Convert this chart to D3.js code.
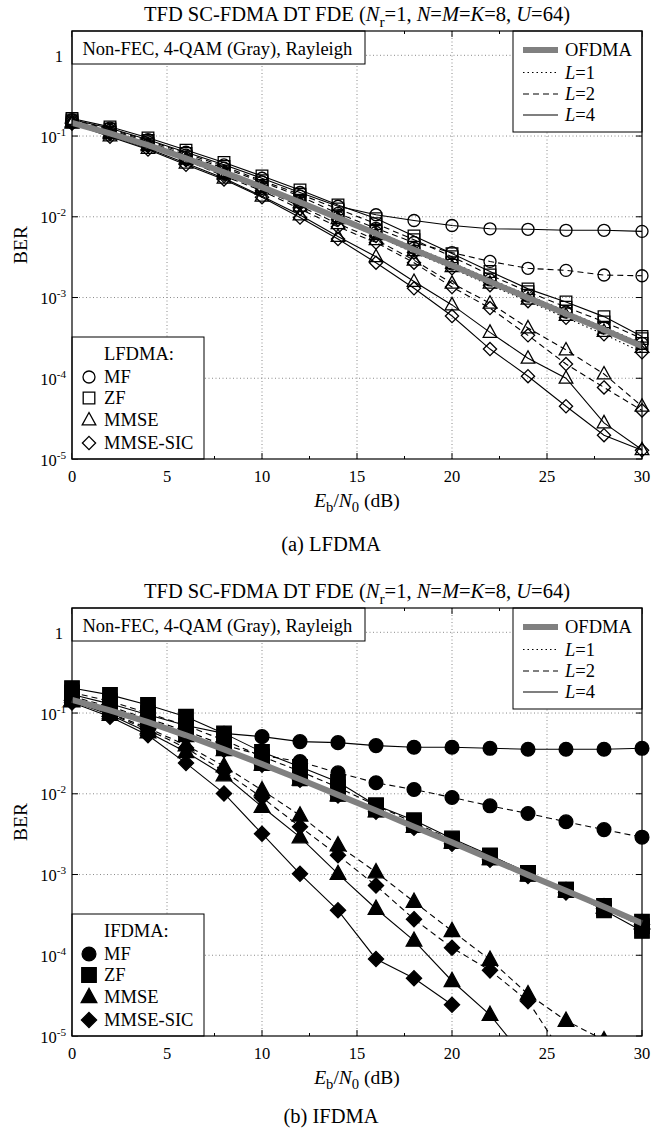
<!DOCTYPE html>
<html>
<head>
<meta charset="utf-8">
<script src="https://cdn.jsdelivr.net/npm/d3@7"></script>
<style>
body{margin:0;background:#fff}
svg text{font-family:"Liberation Serif","Times New Roman",serif;fill:#000}
</style>
</head>
<body>
<svg id="fig" width="669" height="1130"></svg>
<script>
// Eb/N0 points (dB)
const snr = [0, 2, 4, 6, 8, 10, 12, 14, 16, 18, 20, 22, 24, 26, 28, 30];
const xTicks = [0, 5, 10, 15, 20, 25, 30];
const yTicks = [1e-5, 1e-4, 1e-3, 1e-2, 1e-1, 1];

// OFDMA reference (grey)
const ofdma = [0.146, 0.108, 0.077, 0.053, 0.0355, 0.0233, 0.0151, 0.0097, 0.0062, 0.0039, 0.0025, 0.00157, 0.00099, 0.00063, 0.0004, 0.00025];

// (a) LFDMA
const lfMF1   = [0.148, 0.11, 0.078, 0.054, 0.036, 0.024, 0.0155, 0.0099, 0.0064, 0.0041, 0.0026, 0.00165, 0.00104, 0.00066, 0.00042, 0.00027];
const lfZF1   = [0.15, 0.112, 0.08, 0.055, 0.037, 0.0245, 0.016, 0.0103, 0.0066, 0.0042, 0.0027, 0.0017, 0.00107, 0.00068, 0.00043, 0.00027];
const lfMMSE1 = [0.145, 0.107, 0.076, 0.052, 0.035, 0.023, 0.0149, 0.0095, 0.006, 0.0038, 0.0024, 0.0015, 0.00095, 0.0006, 0.00038, 0.00024];
const lfSIC1  = [0.144, 0.106, 0.075, 0.051, 0.034, 0.0225, 0.0145, 0.0092, 0.0058, 0.0036, 0.0023, 0.00142, 0.0009, 0.00056, 0.00035, 0.00021];
const lfMF2   = [0.155, 0.118, 0.085, 0.058, 0.04, 0.027, 0.018, 0.011, 0.0072, 0.0048, 0.0036, 0.0028, 0.0023, 0.00217, 0.0019, 0.00186];
const lfZF2   = [0.158, 0.122, 0.088, 0.061, 0.042, 0.028, 0.019, 0.0125, 0.0082, 0.0052, 0.0032, 0.0019, 0.00118, 0.00076, 0.0005, 0.00031];
const lfMMSE2 = [0.15, 0.11, 0.078, 0.052, 0.034, 0.022, 0.0135, 0.0082, 0.0052, 0.0029, 0.0015, 0.00085, 0.00042, 0.000224, 0.000113, 0.000045];
const lfSIC2  = [0.148, 0.108, 0.076, 0.05, 0.032, 0.021, 0.0125, 0.0075, 0.0048, 0.0027, 0.00135, 0.00074, 0.00034, 0.00015, 0.000077, 0.00004];
const lfMF4   = [0.16, 0.125, 0.09, 0.063, 0.044, 0.03, 0.02, 0.0135, 0.0106, 0.009, 0.0078, 0.0071, 0.007, 0.0068, 0.0068, 0.0066];
const lfZF4   = [0.165, 0.13, 0.095, 0.067, 0.047, 0.032, 0.0215, 0.014, 0.0095, 0.0058, 0.0035, 0.0021, 0.00128, 0.00088, 0.00058, 0.00033];
const lfMMSE4 = [0.145, 0.1, 0.07, 0.046, 0.03, 0.018, 0.0105, 0.0057, 0.0032, 0.00158, 0.00081, 0.00037, 0.000177, 0.0001, 0.000028, 0.000013];
const lfSIC4  = [0.143, 0.098, 0.068, 0.044, 0.029, 0.0175, 0.0098, 0.0053, 0.0027, 0.0013, 0.00059, 0.00023, 0.000106, 0.000045, 0.0000197, 0.0000128];

// (b) IFDMA
const ifMF1   = [0.147, 0.109, 0.078, 0.054, 0.036, 0.0236, 0.0153, 0.0098, 0.0063, 0.004, 0.00255, 0.0016, 0.001, 0.00064, 0.00041, 0.00026];
const ifZF1   = [0.149, 0.111, 0.079, 0.055, 0.037, 0.024, 0.0155, 0.01, 0.0064, 0.0041, 0.0026, 0.00163, 0.00102, 0.00065, 0.00041, 0.00026];
const ifMMSE1 = [0.145, 0.107, 0.076, 0.052, 0.035, 0.023, 0.015, 0.0096, 0.0061, 0.0039, 0.0025, 0.00156, 0.00098, 0.00062, 0.00039, 0.00025];
const ifSIC1  = [0.144, 0.106, 0.075, 0.052, 0.0348, 0.0229, 0.0149, 0.0095, 0.006, 0.0038, 0.0024, 0.00152, 0.00096, 0.0006, 0.00038, 0.00024];
const ifMF2   = [0.16, 0.12, 0.085, 0.06, 0.04, 0.03, 0.025, 0.0182, 0.0137, 0.0113, 0.009, 0.0071, 0.0057, 0.0045, 0.0036, 0.0029];
const ifZF2   = [0.18, 0.14, 0.1, 0.07, 0.046, 0.029, 0.019, 0.012, 0.0072, 0.0044, 0.0027, 0.0017, 0.00105, 0.00065, 0.00038, 0.00023];
const ifMMSE2 = [0.145, 0.1, 0.065, 0.04, 0.022, 0.0111, 0.0054, 0.0023, 0.00107, 0.00046, 0.0002, 0.000088, 0.000033, 0.0000155, 0.0000089, null];
const ifSIC2  = [0.143, 0.098, 0.062, 0.037, 0.019, 0.009, 0.0039, 0.00173, 0.00073, 0.00028, 0.000124, 0.000065, 0.000027, 0.0000052, null, null];
const ifMF4   = [0.17, 0.13, 0.095, 0.07, 0.056, 0.051, 0.0443, 0.043, 0.0395, 0.0377, 0.0377, 0.0366, 0.0356, 0.0356, 0.0356, 0.0366];
const ifZF4   = [0.204, 0.168, 0.126, 0.09, 0.056, 0.033, 0.0216, 0.014, 0.0072, 0.0047, 0.0028, 0.00173, 0.00105, 0.00064, 0.00036, 0.0002];
const ifMMSE4 = [0.14, 0.095, 0.058, 0.033, 0.017, 0.0069, 0.0029, 0.00102, 0.000377, 0.000152, 0.000048, 0.0000183, 0.0000048, null, null, null];
const ifSIC4  = [0.135, 0.09, 0.053, 0.024, 0.0101, 0.0032, 0.00102, 0.00036, 0.00009, 0.000052, 0.0000244, null, null, null, null, null];

const detectors = ["MF", "ZF", "MMSE", "MMSE-SIC"];
const lfSeries = [
  {L: 1, vals: [lfMF1, lfZF1, lfMMSE1, lfSIC1]},
  {L: 2, vals: [lfMF2, lfZF2, lfMMSE2, lfSIC2]},
  {L: 4, vals: [lfMF4, lfZF4, lfMMSE4, lfSIC4]}
];
const ifSeries = [
  {L: 1, vals: [ifMF1, ifZF1, ifMMSE1, ifSIC1]},
  {L: 2, vals: [ifMF2, ifZF2, ifMMSE2, ifSIC2]},
  {L: 4, vals: [ifMF4, ifZF4, ifMMSE4, ifSIC4]}
];

const svg = d3.select("#fig");
const X0 = 72, X1 = 642, PH = 428;
const dashFor = {1: "1.5,3", 2: "6,4", 4: null};

// marker shape paths, centered on 0,0
function markerPath(k, filled){
  const s = filled ? 1.15 : 1;
  if(k === 0){ const r = 6*s; return "M"+r+",0A"+r+","+r+" 0 1,1 "+(-r)+",0A"+r+","+r+" 0 1,1 "+r+",0Z"; }
  if(k === 1){ const h = 5.8*(filled ? 1.25 : 1); return "M"+(-h)+","+(-h)+"H"+h+"V"+h+"H"+(-h)+"Z"; }
  if(k === 2){ const a = 6.8*s; return "M0,"+(-a*1.1)+"L"+a+","+(a*0.72)+"H"+(-a)+"Z"; }
  const d = 6.6*s; return "M0,"+(-d)+"L"+d+",0L0,"+d+"L"+(-d)+",0Z";
}

// rich text helper: parts = [{t, i, sub, sup}]
function rich(sel, parts, fs){
  let shift = 0;
  parts.forEach(function(p){
    const ts = sel.append("tspan").text(p.t);
    let target = 0;
    if(p.sub){ target = fs*0.28; ts.attr("font-size", fs*0.75); }
    if(p.sup){ target = -fs*0.42; ts.attr("font-size", fs*0.68); }
    if(target !== shift){ ts.attr("dy", target - shift); shift = target; }
    if(p.i) ts.attr("font-style", "italic");
  });
  return sel;
}

const titleParts = [{t:"TFD SC-FDMA DT FDE ("},{t:"N",i:1},{t:"r",sub:1},{t:"=1, "},{t:"N",i:1},{t:"="},
  {t:"M",i:1},{t:"="},{t:"K",i:1},{t:"=8, "},{t:"U",i:1},{t:"=64)"}];

const panels = [
  {top: 31, titleBase: 21, capBase: 551, caption: "(a) LFDMA", group: "LFDMA:", filled: false, series: lfSeries, id: "a"},
  {top: 608, titleBase: 598, capBase: 1123, caption: "(b) IFDMA", group: "IFDMA:", filled: true, series: ifSeries, id: "b"}
];

panels.forEach(function(p){
  const top = p.top, bot = top + PH;
  const x = d3.scaleLinear().domain([0, 30]).range([X0, X1]);
  const y = d3.scaleLog().domain([1e-5, 2]).range([bot, top]);
  const g = svg.append("g");

  g.append("clipPath").attr("id", "clip" + p.id)
    .append("rect").attr("x", 0).attr("y", top).attr("width", 669).attr("height", PH);

  // grid
  g.selectAll(".gx").data(xTicks.slice(1, -1)).join("line")
    .attr("x1", d => x(d)).attr("x2", d => x(d)).attr("y1", top).attr("y2", bot)
    .attr("stroke", "#8a8a8a").attr("stroke-width", 1).attr("stroke-dasharray", "1,2.5");
  g.selectAll(".gy").data(yTicks.slice(1)).join("line")
    .attr("x1", X0).attr("x2", X1).attr("y1", d => y(d)).attr("y2", d => y(d))
    .attr("stroke", "#8a8a8a").attr("stroke-width", 1).attr("stroke-dasharray", "1,2.5");

  const data = g.append("g").attr("clip-path", "url(#clip" + p.id + ")");
  const line = d3.line().defined(d => d[1] != null).x(d => x(d[0])).y(d => y(d[1]));

  // series lines
  p.series.forEach(function(s){
    s.vals.forEach(function(v){
      data.append("path").datum(snr.map((e, i) => [e, v[i]]))
        .attr("d", line).attr("fill", "none").attr("stroke", "#000").attr("stroke-width", 1.1)
        .attr("stroke-dasharray", dashFor[s.L]);
    });
  });
  // markers
  p.series.forEach(function(s){
    s.vals.forEach(function(v, k){
      data.selectAll(null).data(snr.map((e, i) => [e, v[i]]).filter(d => d[1] != null)).join("path")
        .attr("transform", d => "translate(" + x(d[0]) + "," + y(d[1]) + ")")
        .attr("d", markerPath(k, p.filled))
        .attr("fill", p.filled ? "#000" : "none").attr("stroke", "#000").attr("stroke-width", 1.3);
    });
  });
  // OFDMA
  data.append("path").datum(snr.map((e, i) => [e, ofdma[i]]))
    .attr("d", line).attr("fill", "none").attr("stroke", "#808080").attr("stroke-width", 6);

  // ticks
  const minor = [2.5, 7.5, 12.5, 17.5, 22.5, 27.5];
  xTicks.forEach(function(t){
    g.append("line").attr("x1", x(t)).attr("x2", x(t)).attr("y1", bot).attr("y2", bot - 6).attr("stroke", "#000");
    g.append("line").attr("x1", x(t)).attr("x2", x(t)).attr("y1", top).attr("y2", top + 6).attr("stroke", "#000");
  });
  minor.forEach(function(t){
    g.append("line").attr("x1", x(t)).attr("x2", x(t)).attr("y1", bot).attr("y2", bot - 3).attr("stroke", "#000");
    g.append("line").attr("x1", x(t)).attr("x2", x(t)).attr("y1", top).attr("y2", top + 3).attr("stroke", "#000");
  });
  yTicks.forEach(function(t){
    g.append("line").attr("x1", X0).attr("x2", X0 + 6).attr("y1", y(t)).attr("y2", y(t)).attr("stroke", "#000");
    g.append("line").attr("x1", X1).attr("x2", X1 - 6).attr("y1", y(t)).attr("y2", y(t)).attr("stroke", "#000");
  });

  // tick labels
  g.selectAll(".xl").data(xTicks).join("text")
    .attr("x", d => x(d)).attr("y", bot + 23).attr("text-anchor", "middle")
    .attr("font-size", 16.5).text(d => d);
  yTicks.forEach(function(t){
    const e = Math.round(Math.log10(t));
    const tx = g.append("text").attr("text-anchor", "end").attr("font-size", 16.5).attr("y", y(t) + 6.5);
    if(e === 0){ tx.attr("x", 63).text("1"); }
    else { tx.attr("x", 66); rich(tx, [{t: "10"}, {t: "-" + (-e), sup: 1}], 16.5); }
  });

  // axis labels
  rich(g.append("text").attr("x", (X0 + X1) / 2).attr("y", bot + 47.5).attr("text-anchor", "middle").attr("font-size", 19.5),
    [{t: "E", i: 1}, {t: "b", sub: 1}, {t: "/"}, {t: "N", i: 1}, {t: "0", sub: 1}, {t: " (dB)"}], 19.5);
  g.append("text").attr("transform", "translate(27," + (top + PH / 2) + ") rotate(-90)")
    .attr("text-anchor", "middle").attr("font-size", 19.5).text("BER");

  // title and caption
  rich(g.append("text").attr("x", (X0 + X1) / 2).attr("y", p.titleBase).attr("text-anchor", "middle").attr("font-size", 20.5),
    titleParts, 20.5);
  g.append("text").attr("x", 331).attr("y", p.capBase).attr("text-anchor", "middle").attr("font-size", 20.5).text(p.caption);

  // annotation box
  g.append("rect").attr("x", X0).attr("y", top).attr("width", 293).attr("height", 33)
    .attr("fill", "#fff").attr("stroke", "#000");
  g.append("text").attr("x", 82.5).attr("y", top + 24).attr("font-size", 18.5).text("Non-FEC, 4-QAM (Gray), Rayleigh");

  // line-style legend
  g.append("rect").attr("x", 513).attr("y", top).attr("width", X1 - 513).attr("height", 101)
    .attr("fill", "#fff").attr("stroke", "#000");
  const rows = [
    {c: 19, stroke: "#808080", w: 6, dash: null, parts: [{t: "OFDMA"}]},
    {c: 41.5, stroke: "#000", w: 1.1, dash: dashFor[1], parts: [{t: "L", i: 1}, {t: "=1"}]},
    {c: 63, stroke: "#000", w: 1.1, dash: dashFor[2], parts: [{t: "L", i: 1}, {t: "=2"}]},
    {c: 84, stroke: "#000", w: 1.1, dash: dashFor[4], parts: [{t: "L", i: 1}, {t: "=4"}]}
  ];
  rows.forEach(function(r){
    g.append("line").attr("x1", 523).attr("x2", 558).attr("y1", top + r.c).attr("y2", top + r.c)
      .attr("stroke", r.stroke).attr("stroke-width", r.w).attr("stroke-dasharray", r.dash);
    rich(g.append("text").attr("x", 565).attr("y", top + r.c + 6).attr("font-size", 18.5), r.parts, 18.5);
  });

  // detector legend
  g.append("rect").attr("x", X0).attr("y", bot - 122).attr("width", 132).attr("height", 122)
    .attr("fill", "#fff").attr("stroke", "#000");
  g.append("text").attr("x", 104).attr("y", bot - 99).attr("font-size", 18.5).text(p.group);
  const mk = [82, 61, 39, 16];
  detectors.forEach(function(name, k){
    g.append("path").attr("transform", "translate(89," + (bot - mk[k]) + ")")
      .attr("d", markerPath(k, p.filled))
      .attr("fill", p.filled ? "#000" : "none").attr("stroke", "#000").attr("stroke-width", 1.3);
    g.append("text").attr("x", 104).attr("y", bot - mk[k] + 5.5).attr("font-size", 18.5).text(name);
  });

  // frame
  g.append("rect").attr("x", X0).attr("y", top).attr("width", X1 - X0).attr("height", PH)
    .attr("fill", "none").attr("stroke", "#000").attr("stroke-width", 1.2);
});
</script>
</body>
</html>
